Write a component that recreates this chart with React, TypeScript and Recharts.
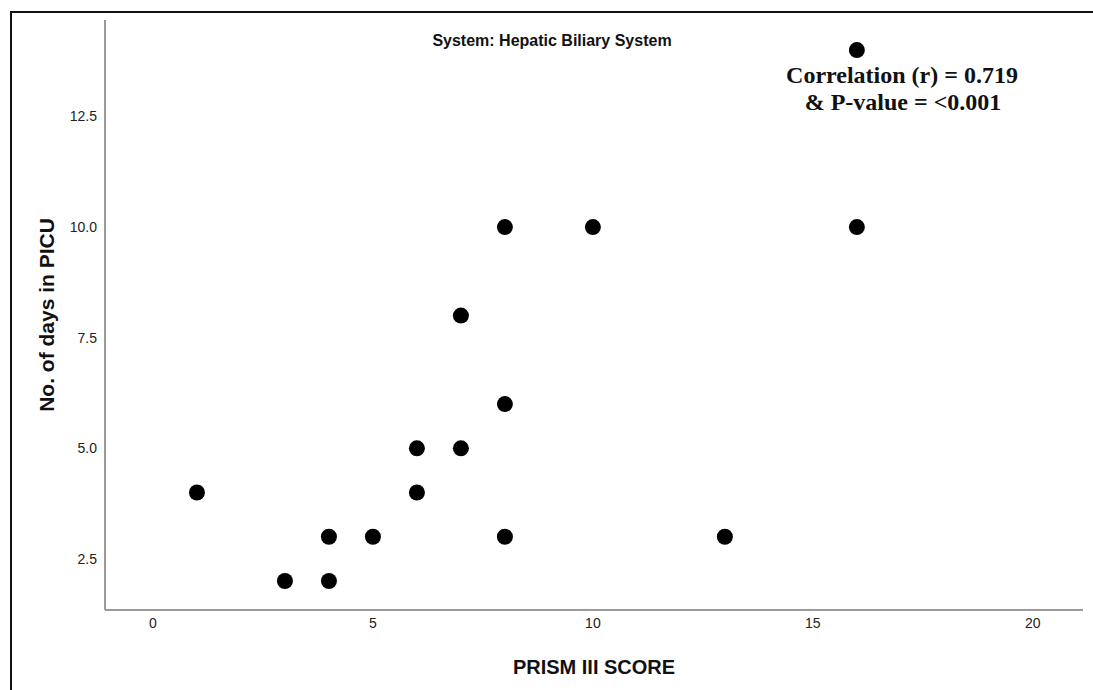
import React from 'react';
import { ScatterChart, Scatter, XAxis, YAxis, Label } from 'recharts';

const prismScore = [1, 3, 4, 4, 5, 6, 6, 7, 7, 8, 8, 8, 10, 13, 16, 16];
const daysInPicu = [4, 2, 2, 3, 3, 4, 5, 5, 8, 6, 10, 3, 10, 3, 10, 14];
const xTicks = [0, 5, 10, 15, 20];
const yTicks = [2.5, 5, 7.5, 10, 12.5];
const chartTitle = 'System: Hepatic Biliary System';
const annotationLines = ['Correlation (r) = 0.719', '& P-value = <0.001'];

const data = prismScore.map((x, i) => ({ x, y: daysInPicu[i] }));

const Dot = (props: any) => <circle cx={props.cx} cy={props.cy} r={8} fill="#000" />;

const sans = '"Liberation Sans", Arial, sans-serif';
const serif = '"Liberation Serif", "Times New Roman", serif';

export default function App() {
  return (
    <div style={{ position: 'absolute', left: 0, top: 0, width: 1093, height: 690, background: '#fff', overflow: 'hidden' }}>
      <ScatterChart width={1093} height={690} margin={{ top: 20, right: 10, bottom: 0, left: 0 }}>
        <XAxis
          type="number"
          dataKey="x"
          domain={[-1.09, 21.14]}
          allowDataOverflow
          ticks={xTicks}
          interval={0}
          tickLine={false}
          height={80}
          axisLine={{ stroke: '#9a9a9a', strokeWidth: 2 }}
          tick={{ fill: '#222', fontSize: 14, fontFamily: sans }}
        >
          <Label value="PRISM III SCORE" position="insideBottom" offset={16}
            style={{ fontFamily: sans, fontSize: 20, fontWeight: 'bold', fill: '#111' }} />
        </XAxis>
        <YAxis
          type="number"
          dataKey="y"
          domain={[1.345, 14.68]}
          allowDataOverflow
          ticks={yTicks}
          interval={0}
          tickLine={false}
          width={105}
          tickFormatter={(v: number) => v.toFixed(1)}
          axisLine={{ stroke: '#9a9a9a', strokeWidth: 2 }}
          tick={{ fill: '#222', fontSize: 14, fontFamily: sans }}
        >
          <Label value="No. of days in PICU" position="insideLeft" angle={-90} offset={47}
            style={{ fontFamily: sans, fontSize: 21, fontWeight: 'bold', fill: '#111', textAnchor: 'middle' }} />
        </YAxis>
        <Scatter data={data} shape={Dot} isAnimationActive={false} />
      </ScatterChart>
      <svg width={1093} height={690} style={{ position: 'absolute', left: 0, top: 0, pointerEvents: 'none' }}>
        <text x={552} y={46} textAnchor="middle" fontFamily={sans} fontSize={16} fontWeight="bold" fill="#111">{chartTitle}</text>
        <text x={902} y={83} textAnchor="middle" fontFamily={serif} fontSize={24} fontWeight="bold" fill="#111">{annotationLines[0]}</text>
        <text x={903} y={110} textAnchor="middle" fontFamily={serif} fontSize={24} fontWeight="bold" fill="#111">{annotationLines[1]}</text>
      </svg>
      <div style={{ position: 'absolute', left: 10, top: 11, width: 1100, height: 700, borderTop: '2px solid #111', borderLeft: '2px solid #111', pointerEvents: 'none' }} />
    </div>
  );
}
